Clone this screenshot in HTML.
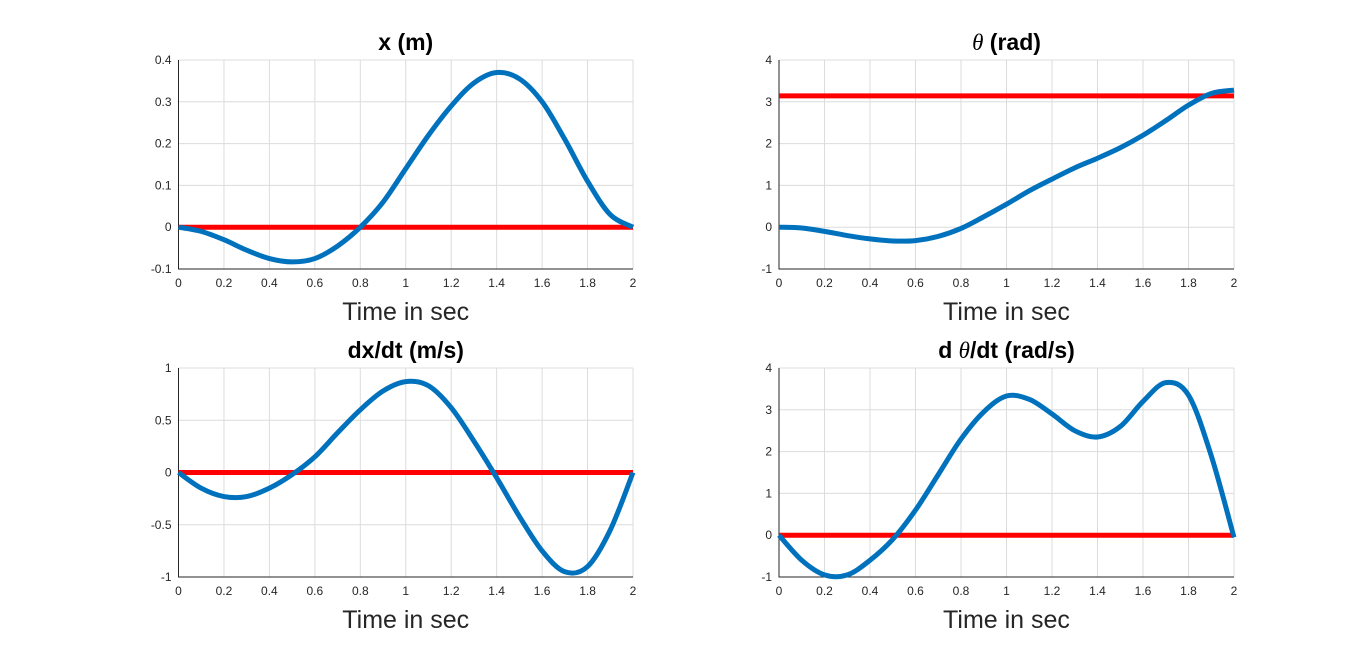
<!DOCTYPE html>
<html><head><meta charset="utf-8"><style>
body{margin:0;background:#fff;width:1366px;height:651px;overflow:hidden;font-family:"Liberation Sans",sans-serif}
</style></head><body>
<svg id="fig" width="1366" height="651" xmlns="http://www.w3.org/2000/svg"></svg>
<script>
const tVals=[0,0.1,0.2,0.3,0.4,0.5,0.6,0.7,0.8,0.9,1.0,1.1,1.2,1.3,1.4,1.5,1.6,1.7,1.8,1.9,2.0];
const xVals=[0,-0.01,-0.03,-0.055,-0.075,-0.083,-0.075,-0.045,0,0.06,0.14,0.22,0.29,0.345,0.37,0.355,0.3,0.21,0.11,0.03,0];
const thVals=[0,-0.02,-0.1,-0.2,-0.28,-0.33,-0.32,-0.22,-0.03,0.25,0.55,0.87,1.15,1.42,1.65,1.9,2.2,2.55,2.92,3.2,3.28];
const dxVals=[0,-0.15,-0.23,-0.23,-0.15,-0.02,0.15,0.38,0.6,0.78,0.87,0.83,0.62,0.3,-0.05,-0.42,-0.75,-0.95,-0.9,-0.55,0];
const dthVals=[0,-0.6,-0.95,-0.95,-0.6,-0.1,0.6,1.45,2.3,2.95,3.33,3.25,2.9,2.5,2.35,2.6,3.2,3.65,3.35,1.9,-0.05];
const xTicks=[0,0.2,0.4,0.6,0.8,1,1.2,1.4,1.6,1.8,2];
const yTicksX=[-0.1,0,0.1,0.2,0.3,0.4];
const yTicksTh=[-1,0,1,2,3,4];
const yTicksDx=[-1,-0.5,0,0.5,1];
const yTicksDth=[-1,0,1,2,3,4];
const refX=[0],refTh=[Math.PI],refDx=[0],refDth=[0];
const NS="http://www.w3.org/2000/svg";
const svg=document.getElementById('fig');
function mk(tag,attrs,parent){const e=document.createElementNS(NS,tag);for(const k in attrs)e.setAttribute(k,attrs[k]);(parent||svg).appendChild(e);return e;}
function panel(name,L,T,R,B,ymin,ymax,yt,vals,ref,titleHTML){
  const g=mk('g',{});
  
  
  const sx=v=>L+(v-0)/(2-0)*(R-L), sy=v=>B-(v-ymin)/(ymax-ymin)*(B-T);
  xTicks.forEach(v=>{const l=mk('line',{x1:sx(v),x2:sx(v),y1:T,y2:B,stroke:'#dcdcdc','stroke-width':1},g);
    const t=mk('text',{x:sx(v),y:B+18,'text-anchor':'middle','font-size':12,fill:'#262626'},g);t.textContent=String(v);});
  yt.forEach(v=>{const l=mk('line',{x1:L,x2:R,y1:sy(v),y2:sy(v),stroke:'#dcdcdc','stroke-width':1},g);
    const t=mk('text',{x:L-7,y:sy(v)+4,'text-anchor':'end','font-size':12,fill:'#262626'},g);t.textContent=String(v);});
  const ax=mk('path',{d:`M${L},${T}V${B}H${R}`,stroke:'#262626','stroke-width':1,fill:'none'},g);
  const r=mk('line',{x1:sx(0),x2:sx(2),y1:sy(ref[0]),y2:sy(ref[0]),stroke:'#ff0000','stroke-width':5},g);
  const p=tVals.map((t,i)=>[sx(t),sy(vals[i])]);
  let d=`M${p[0][0]},${p[0][1]}`;
  for(let i=0;i<p.length-1;i++){const p0=p[Math.max(i-1,0)],p1=p[i],p2=p[i+1],p3=p[Math.min(i+2,p.length-1)];
    d+=`C${p1[0]+(p2[0]-p0[0])/6},${p1[1]+(p2[1]-p0[1])/6} ${p2[0]-(p3[0]-p1[0])/6},${p2[1]-(p3[1]-p1[1])/6} ${p2[0]},${p2[1]}`;}
  const c=mk('path',{d:d,stroke:'#0072bd','stroke-width':5,fill:'none','stroke-linejoin':'round'},g);
  const ti=mk('text',{x:(L+R)/2,y:T-10,'text-anchor':'middle','font-size':23,'font-weight':'bold',fill:'#000'},g);ti.innerHTML=titleHTML;
  const xl=mk('text',{x:(L+R)/2,y:B+51,'text-anchor':'middle','font-size':25,fill:'#262626'},g);xl.textContent='Time in sec';
}
panel('x',178.5,60,633,269,-0.1,0.4,yTicksX,xVals,refX,'x (m)');
panel('theta',779,60,1234,269,-1,4,yTicksTh,thVals,refTh,'<tspan font-family="Liberation Serif" font-style="italic" font-weight="normal">θ</tspan> (rad)');
panel('dx',178.5,368,633,577,-1,1,yTicksDx,dxVals,refDx,'dx/dt (m/s)');
panel('dtheta',779,368,1234,577,-1,4,yTicksDth,dthVals,refDth,'d <tspan font-family="Liberation Serif" font-style="italic" font-weight="normal">θ</tspan>/dt (rad/s)');
</script>
</body></html>
